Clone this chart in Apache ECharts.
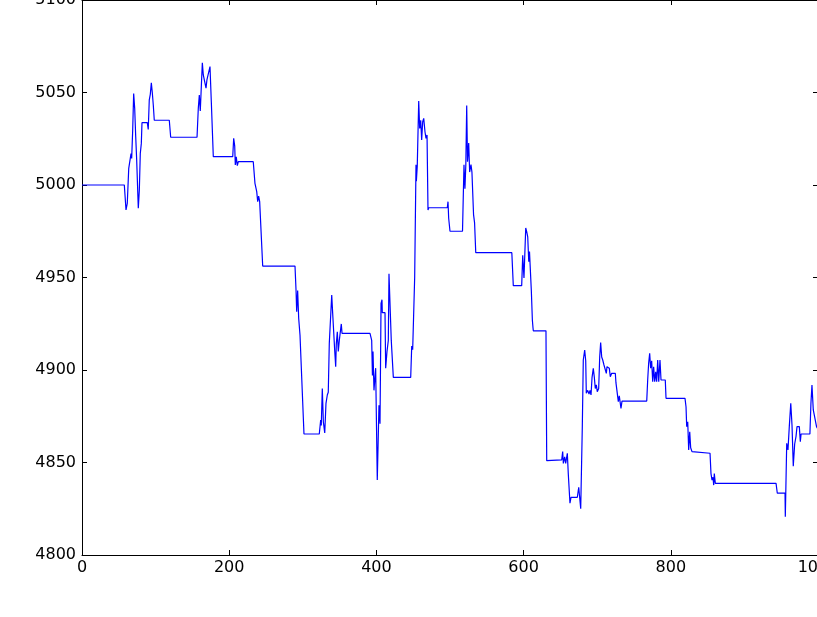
<!DOCTYPE html>
<html>
<head>
<meta charset="utf-8">
<script src="https://cdn.jsdelivr.net/npm/echarts@6/dist/echarts.min.js"></script>
<style>
html, body { margin: 0; padding: 0; overflow: hidden; background: #fff; }
#chart { position: absolute; left: 0; top: 0; width: 820px; height: 617px; }
</style>
</head>
<body>
<div id="chart"></div>
<script>
// x positions (sample index) of the traced points
const xs = [
  0, 57.5, 59.8, 61.5, 63.5, 66.6, 67.5, 68.9, 70.2, 71.6, 73, 74.3, 76.5, 77.9, 79.2, 80.6, 81.5,
  88.7, 90, 91.4, 92.8, 94.2, 95.5, 96.9, 98.2, 118.6, 120.5, 156.3, 158, 159.4, 160.7, 163.5,
  164.8, 166.2, 168.5, 169.8, 172.1, 173.9, 175.7, 178.4, 204.8, 206.1, 207.5, 208.3, 209.6, 211,
  212.4, 232.7, 235, 237.4, 238.7, 240, 241.4, 241.8, 245.5, 289.4, 290.8, 291.7, 293, 294.4,
  296.2, 297.1, 301.6, 322.4, 324.3, 325.1, 326.5, 327.9, 329.8, 331.5, 333.3, 334.6, 336, 337.4,
  339.3, 340.6, 342, 343.3, 344.7, 345.5, 346.9, 348.2, 349.6, 351, 352.3, 353.3, 391.3, 393.6,
  394.6, 395.4, 396.7, 399, 401.2, 403.5, 404.9, 406.3, 407.6, 408, 411.7, 412.6, 414.4, 416.2,
  417.1, 419.4, 420.2, 423, 446.6, 448, 449.3, 452, 453.8, 454.3, 455.5, 457.5, 458.8, 460.2,
  461.5, 462.9, 464.3, 466, 467.4, 468.8, 470.1, 471.1, 496.3, 497.3, 498.2, 500, 517, 519,
  520.3, 521.5, 522.7, 523.8, 525.4, 526.7, 528.5, 529.8, 532, 533.4, 535, 584, 586, 597.4,
  598.8, 600.5, 602.9, 604.2, 605.6, 607, 608, 609.2, 610.5, 611.9, 612.8, 613.2, 630.4, 631.4,
  651.8, 653.1, 654, 655.8, 657.2, 659.4, 660.7, 663, 664.4, 673, 674.9, 677.6, 679.8, 681.1,
  683, 684.4, 685.2, 687.1, 688.9, 690.2, 691.6, 693, 694.7, 696.1, 697.4, 698.8, 700.1, 702,
  703.4, 704.7, 706.1, 707.5, 709.2, 711, 712.4, 713.3, 715.1, 716.4, 717.8, 719.7, 724.6, 725.5,
  727.3, 728.7, 730, 730.9, 732.3, 733.7, 767.3, 768.6, 769.9, 771.3, 772.6, 774, 775.4, 776.7,
  778.1, 779.5, 780.8, 782.2, 783.6, 785.3, 786.7, 792.5, 793.5, 819.3, 820.7, 821.6, 823, 824.3,
  825.7, 827, 828.8, 830.6, 853.3, 854.6, 856, 857.3, 858.3, 859.1, 860.5, 943, 944.7, 955.2,
  955.6, 957.5, 959.2, 961, 963, 964.7, 966.4, 968.3, 970.1, 971.5, 974.6, 976, 977, 989, 990.4,
  991.8, 993.6, 995.9, 998, 1000
];
// y values of the traced points
const ys = [
  5000, 5000, 4986.5, 4990, 5009, 5017, 5014.4, 5030, 5049.5, 5041.4, 5026, 5013.5, 4987.4, 4997.3, 5017, 5022.5, 5033.7,
  5033.7, 5030, 5046, 5049, 5055.3, 5050, 5043, 5035, 5035, 5025.8, 5025.8, 5041.4, 5048.6, 5040, 5066,
  5059.5, 5058.6, 5052.3, 5057, 5056, 5064, 5045, 5015.3, 5015.3, 5025.2, 5021, 5010.8, 5015.3, 5010.5,
  5012.6, 5012.6, 5000.9, 4996.4, 4991, 4994, 4991, 4992, 4956.2, 4956.2, 4943.2, 4931.5, 4943, 4928,
  4918.9, 4918, 4865.4, 4865.4, 4873, 4870, 4890, 4872, 4866, 4882, 4886.5, 4888, 4914.4, 4915,
  4940.5, 4930.6, 4931, 4910.8, 4901.8, 4914, 4920.7, 4910, 4916, 4915, 4924.9, 4919.8, 4919.8, 4916,
  4897, 4910, 4889, 4901, 4840.5, 4881, 4871, 4936, 4938, 4931, 4931, 4901, 4910, 4916,
  4952, 4951, 4916, 4896, 4896, 4913, 4911, 4950, 5011, 5002, 5010, 5045.4, 5030.6, 5035,
  5024.3, 5034.2, 5036, 5028.8, 5025.2, 5027, 4986.5, 4987.7, 4987.7, 4991, 4982, 4975, 4975, 5011,
  4998, 5011, 5043, 5012.6, 5022.7, 5007, 5011, 5007, 4984, 4979.5, 4963.4, 4963.4, 4945.6, 4945.6,
  4962, 4949.7, 4976.8, 4974.8, 4972, 4958.5, 4964, 4963, 4943, 4927, 4922.7, 4921.2, 4921.2, 4851,
  4851.4, 4855.9, 4849.5, 4853, 4849.5, 4855, 4844, 4828, 4831.2, 4831.2, 4836.6, 4825, 4870, 4905.4,
  4910.8, 4905, 4887.4, 4889, 4887, 4889, 4886.5, 4896, 4900.9, 4896, 4890, 4892, 4888.3, 4890,
  4907, 4914.8, 4907, 4905.4, 4902.7, 4903, 4898.2, 4901.8, 4901.8, 4901, 4896.4, 4898.2, 4898.2, 4893,
  4893, 4882.9, 4886, 4886, 4879.3, 4883.2, 4883.2, 4894.6, 4903.6, 4909, 4901, 4905, 4893.7, 4901.8,
  4893.7, 4899, 4893.7, 4905.4, 4893.7, 4905.4, 4894.6, 4894.6, 4884.7, 4884.7, 4880, 4869.4, 4872, 4856.8,
  4866.6, 4858, 4855.9, 4855, 4855, 4844, 4840.5, 4842, 4837.8, 4844, 4838.7, 4838.7, 4833.4, 4833.4,
  4820.7, 4860.4, 4856.8, 4869.4, 4882, 4870, 4848, 4860, 4864, 4869.4, 4869.4, 4861.3, 4865.4, 4865.4, 4882,
  4891.9, 4878.4, 4877.5, 4869.4, 4868
];
const xTicks = [0, 200, 400, 600, 800, 1000];
const yTicks = [4800, 4850, 4900, 4950, 5000, 5050, 5100];

const points = xs.map((x, i) => [x, ys[i]]);

const chart = echarts.init(document.getElementById('chart'), null, { renderer: 'canvas' });
const font = { fontFamily: 'DejaVu Sans', fontSize: 16, color: '#000', formatter: (v) => String(v) };
const axisLine = { show: true, onZero: false, lineStyle: { color: '#000', width: 1 } };
const tick = { show: true, inside: true, length: 5, lineStyle: { color: '#000', width: 1 } };

chart.setOption({
  animation: false,
  backgroundColor: '#fff',
  grid: { left: 82, right: 2, top: 0, bottom: 62, containLabel: false, outerBoundsMode: 'none' },
  xAxis: [
    {
      type: 'value', min: xTicks[0], max: xTicks[xTicks.length - 1], interval: 200,
      axisLine: axisLine, axisTick: tick, splitLine: { show: false },
      axisLabel: Object.assign({ margin: 5 }, font)
    },
    {
      type: 'value', position: 'top', min: xTicks[0], max: xTicks[xTicks.length - 1], interval: 200,
      axisLine: axisLine, axisTick: tick, splitLine: { show: false }, axisLabel: { show: false }
    }
  ],
  yAxis: [
    {
      type: 'value', min: yTicks[0], max: yTicks[yTicks.length - 1], interval: 50,
      axisLine: axisLine, axisTick: tick, splitLine: { show: false },
      axisLabel: Object.assign({ margin: 6 }, font)
    },
    {
      type: 'value', position: 'right', min: yTicks[0], max: yTicks[yTicks.length - 1], interval: 50,
      axisLine: axisLine, axisTick: tick, splitLine: { show: false }, axisLabel: { show: false }
    }
  ],
  series: [{
    type: 'line',
    data: points,
    showSymbol: false,
    symbol: 'none',
    lineStyle: { color: '#0000ff', width: 1.2 },
    itemStyle: { color: '#0000ff' }
  }]
});
</script>
</body>
</html>
